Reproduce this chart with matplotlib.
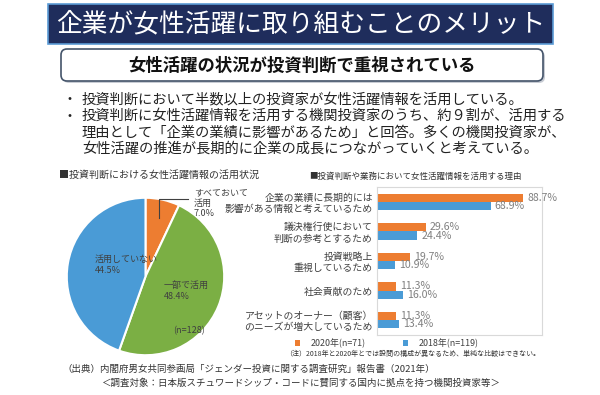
import matplotlib
matplotlib.use("Agg")
import matplotlib.pyplot as plt
from matplotlib.patches import Rectangle, FancyBboxPatch

plt.rcParams['font.family'] = ['Noto Sans CJK JP', 'DejaVu Sans']

# --- dati ---
TITOLO = "企業が女性活躍に取り組むことのメリット"
SOTTOTITOLO = "女性活躍の状況が投資判断で重視されている"
PUNTI = [
    "投資判断において半数以上の投資家が女性活躍情報を活用している。",
    "投資判断に女性活躍情報を活用する機関投資家のうち、約９割が、活用する\n"
    "理由として「企業の業績に影響があるため」と回答。多くの機関投資家が、\n"
    "女性活躍の推進が長期的に企業の成長につながっていくと考えている。",
]

pie_title = "■投資判断における女性活躍情報の活用状況"
pie_labels = ["すべておいて\n活用", "一部で活用", "活用していない"]
pie_values = [7.0, 48.4, 44.5]
pie_n = "(n=128)"

bar_title = "■投資判断や業務において女性活躍情報を活用する理由"
reasons = [
    "企業の業績に長期的には\n影響がある情報と考えているため",
    "議決権行使において\n判断の参考とするため",
    "投資戦略上\n重視しているため",
    "社会貢献のため",
    "アセットのオーナー（顧客）\nのニーズが増大しているため",
]
pct_2020 = [88.7, 29.6, 19.7, 11.3, 11.3]
pct_2018 = [68.9, 24.4, 10.9, 16.0, 13.4]
series_names = ["2020年(n=71)", "2018年(n=119)"]

nota = "（注）2018年と2020年とでは設問の構成が異なるため、単純な比較はできない。"
fonte = [
    "（出典）内閣府男女共同参画局「ジェンダー投資に関する調査研究」報告書（2021年）",
    "＜調査対象：日本版スチュワードシップ・コードに賛同する国内に拠点を持つ機関投資家等＞",
]

ARANCIO = "#ED7D31"
VERDE = "#7BAF44"
BLU = "#4A9BD6"
W, H = 600, 395


def px(x0, y0, x1, y1):
    """Rettangolo in pixel (origine in alto a sinistra) -> coordinate figura."""
    return [x0 / W, 1 - y1 / H, (x1 - x0) / W, (y1 - y0) / H]


fig = plt.figure(figsize=(6, 3.95), dpi=100)

# --- torta ---
ax_pie = fig.add_axes(px(66, 197, 225, 356))
ax_pie.pie(pie_values, colors=[ARANCIO, VERDE, BLU], startangle=90, counterclock=False,
           wedgeprops=dict(edgecolor="white", linewidth=1.5))
ax_pie.set_xlim(-1.01, 1.01)
ax_pie.set_ylim(-1.01, 1.01)
ax_pie.set_aspect("equal")

# --- barre ---
ax_bar = fig.add_axes(px(377, 187, 542, 335))
pos = list(range(len(reasons)))
h = 0.28
b20 = ax_bar.barh([p - h / 2 for p in pos], pct_2020, height=h, color=ARANCIO, label=series_names[0])
b18 = ax_bar.barh([p + h / 2 for p in pos], pct_2018, height=h, color=BLU, label=series_names[1])
ax_bar.bar_label(b20, labels=[f"{v:.1f}%" for v in pct_2020], padding=3, fontsize=7.6, color="#808080",
                 clip_on=False)
ax_bar.bar_label(b18, labels=[f"{v:.1f}%" for v in pct_2018], padding=3, fontsize=7.6, color="#808080",
                 clip_on=False)
ax_bar.set_xlim(0, 100)
ax_bar.set_ylim(len(reasons) - 0.5, -0.5)
ax_bar.set_xticks([])
ax_bar.set_yticks(pos)
ax_bar.set_yticklabels(reasons, fontsize=7.1, color="#404040", linespacing=1.15)
ax_bar.tick_params(axis="y", length=0, pad=3)
for s in ax_bar.spines.values():
    s.set_color("#D9D9D9")
    s.set_linewidth(0.8)
ax_bar.legend(loc="center", bbox_to_anchor=(0.06, -0.055), ncol=2, frameon=False, fontsize=6.4,
              handlelength=0.6, handleheight=0.6, columnspacing=4.2, handletextpad=1.2,
              labelcolor="#404040")

# --- livello testi / riquadri (sopra tutto) ---
ax = fig.add_axes([0, 0, 1, 1])
ax.set_xlim(0, W)
ax.set_ylim(H, 0)
ax.axis("off")
ax.set_zorder(10)

ax.add_patch(Rectangle((48, 4), 505, 40, facecolor="#1F2D5C", edgecolor="#5B9BD5", linewidth=1.2))
ax.text(301, 24.5, TITOLO, color="white", fontsize=18.5, ha="center", va="center")

ax.add_patch(FancyBboxPatch((63, 51), 482, 32, boxstyle="round,pad=0,rounding_size=6",
                            facecolor="#C8CCD4", edgecolor="none"))
ax.add_patch(FancyBboxPatch((61, 49), 482, 32, boxstyle="round,pad=0,rounding_size=6",
                            facecolor="white", edgecolor="#44546A", linewidth=1.2))
ax.text(302, 65.5, SOTTOTITOLO, color="#111111", fontsize=12.5, ha="center", va="center",
        weight="bold")

y = 100
for p in PUNTI:
    ax.text(63, y, "・", fontsize=10, ha="left", va="center", color="#222222")
    ax.text(82, y - 8, p, fontsize=10.3, ha="left", va="top", color="#222222", linespacing=1.23)
    y += 17 * (p.count("\n") + 1)

ax.text(59, 175, pie_title, fontsize=7.2, ha="left", va="center", color="#333333")
ax.text(309, 176, bar_title, fontsize=6.1, ha="left", va="center", color="#333333")

# etichette della torta
ax.text(194, 203, f"{pie_labels[0]}\n{pie_values[0]:.1f}%", fontsize=6.5, ha="left", va="center",
        color="#404040", linespacing=1.2)
ax.plot([159, 159, 188], [218, 199, 199], color="#404040", linewidth=0.8)
ax.text(164, 290.5, f"{pie_labels[1]}\n{pie_values[1]:.1f}%", fontsize=6.5, ha="left", va="center",
        color="#404040", linespacing=1.3)
ax.text(95, 264.5, f"{pie_labels[2]}\n{pie_values[2]:.1f}%", fontsize=6.5, ha="left", va="center",
        color="#404040", linespacing=1.3)
ax.text(173, 331, pie_n, fontsize=6.5, ha="left", va="center", color="#404040")

ax.text(285, 354, nota, fontsize=5.0, ha="left", va="center", color="#333333")
ax.text(62, 369, fonte[0], fontsize=6.8, ha="left", va="center", color="#333333")
ax.text(101, 383, fonte[1], fontsize=6.8, ha="left", va="center", color="#333333")

fig.savefig("out.png", dpi=100)
